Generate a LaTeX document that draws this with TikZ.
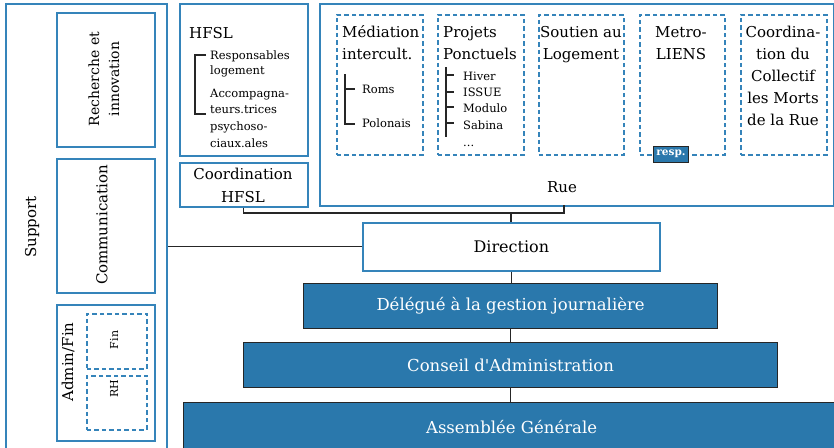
\documentclass[tikz,border=0pt]{standalone}
\usepackage{fontspec}
\setmainfont{DejaVu Serif}
\newfontfamily\qfont{DejaVu Serif}
\definecolor{bl}{HTML}{3584BA}
\definecolor{fillb}{HTML}{2A78AC}
\definecolor{ink}{HTML}{262626}
\begin{document}
\begin{tikzpicture}[x=1pt,y=-1pt,
  box/.style={draw=bl, line width=1.7pt, anchor=north west, inner sep=0pt},
  dbox/.style={draw=bl, line width=1.5pt, dash pattern=on 4.5pt off 3pt, anchor=north west, inner sep=0pt},
  dark/.style={draw=ink, line width=1.2pt, fill=fillb, text=white, anchor=north west, inner sep=0pt, font=\fontsize{16.5}{19}\selectfont},
  conn/.style={draw=ink, line width=1.1pt},
  brk/.style={draw=ink, line width=1.3pt},
  big/.style={inner sep=0pt, font=\fontsize{15}{18}\selectfont},
  small/.style={inner sep=0pt, font=\fontsize{11.5}{14}\selectfont},
  tiny/.style={inner sep=0pt, font=\fontsize{11}{13}\selectfont}]
\useasboundingbox (0,0) rectangle (834,447);

% ---------- Support column ----------
\node[box, minimum width=161pt, minimum height=452pt] (support) at (5,3) {};
\node[big, rotate=90] (supportlbl) at (32,227) {Support};
\node[box, minimum width=98pt, minimum height=134pt] (recherche) at (56,12) {};
\node[inner sep=0pt, rotate=90, align=center, font=\fontsize{14}{20}\selectfont] (recherchelbl) at (104,79) {Recherche et\\innovation};
\node[box, minimum width=98pt, minimum height=134pt] (comm) at (56,158) {};
\node[big, rotate=90] (commlbl) at (102,225) {Communication};
\node[box, minimum width=98pt, minimum height=136pt] (admin) at (56,304) {};
\node[big, rotate=90] (adminlbl) at (68,362) {Admin/Fin};
\node[dbox, minimum width=60pt, minimum height=55pt] (fin) at (86,313) {};
\node[tiny, rotate=90] (finlbl) at (114,340) {Fin};
\node[dbox, minimum width=60pt, minimum height=54pt] (rh) at (86,375) {};
\node[tiny, rotate=90] (rhlbl) at (114,389) {RH};

% ---------- HFSL ----------
\node[box, minimum width=128pt, minimum height=152pt] (hfsl) at (179,3) {};
\node[big, anchor=base west] (hfsltitle) at (189,38) {HFSL};
\draw[brk] (206,55) -- (195,55) -- (195,114) -- (206,114);
\node[small, anchor=base west] (h1) at (210,59) {Responsables};
\node[small, anchor=base west] (h2) at (210,74) {logement};
\node[small, anchor=base west] (h3) at (210,97) {Accompagna-};
\node[small, anchor=base west] (h4) at (210,113) {teurs.trices};
\node[small, anchor=base west] (h5) at (210,130) {psychoso-};
\node[small, anchor=base west] (h6) at (210,147) {ciaux.ales};
\node[box, minimum width=128pt, minimum height=44pt] (coordhfsl) at (179,162) {};
\node[big, anchor=base] (ch1) at (243,179) {Coordination};
\node[big, anchor=base] (ch2) at (243,202) {HFSL};

% ---------- Rue ----------
\node[box, minimum width=514pt, minimum height=202pt] (rue) at (319,3) {};
\node[big, anchor=base] (ruelbl) at (562,192) {Rue};

\node[dbox, minimum width=86pt, minimum height=140pt] (medi) at (336,14) {};
\node[big, anchor=base west] (m1) at (342,37) {Médiation};
\node[big, anchor=base west] (m2) at (342,59) {intercult.};
\draw[brk] (345,74) -- (345,124) -- (355,124) (345,89) -- (355,89);
\node[small, anchor=base west] (m3) at (362,93) {Roms};
\node[small, anchor=base west] (m4) at (362,127) {Polonais};

\node[dbox, minimum width=86pt, minimum height=140pt] (proj) at (437,14) {};
\node[big, anchor=base west] (p1) at (443,37) {Projets};
\node[big, anchor=base west] (p2) at (443,59) {Ponctuels};
\draw[brk] (446,67) -- (446,137) (446,75) -- (454,75) (446,92) -- (454,92) (446,107) -- (454,107) (446,123) -- (454,123);
\node[small, anchor=base west] (p3) at (463,80) {Hiver};
\node[small, anchor=base west] (p4) at (463,96) {ISSUE};
\node[small, anchor=base west] (p5) at (463,112) {Modulo};
\node[small, anchor=base west] (p6) at (463,129) {Sabina};
\node[small, anchor=base west] (p7) at (463,146) {...};

\node[dbox, minimum width=85pt, minimum height=140pt] (sout) at (538,14) {};
\node[big, anchor=base] (s1) at (581,37) {Soutien au};
\node[big, anchor=base] (s2) at (581,59) {Logement};

\node[dbox, minimum width=85pt, minimum height=140pt] (metro) at (639,14) {};
\node[big, anchor=base] (mt1) at (681,37) {Metro-};
\node[big, anchor=base] (mt2) at (681,59) {LIENS};
\node[draw=ink, line width=0.9pt, fill=fillb, text=white, inner sep=0pt, minimum width=35pt, minimum height=16pt, font=\bfseries\fontsize{10.5}{12}\selectfont] (resp) at (671,154) {resp.};

\node[dbox, minimum width=86pt, minimum height=140pt] (cmr) at (740,14) {};
\node[big, anchor=base] (c1) at (783,37) {Coordina-};
\node[big, anchor=base] (c2) at (783,59) {tion du};
\node[big, anchor=base] (c3) at (783,81) {Collectif};
\node[big, anchor=base] (c4) at (783,103) {les Morts};
\node[big, anchor=base] (c5) at (783,125) {de la Rue};

% ---------- Hierarchy ----------
\node[box, draw=bl, fill=white, minimum width=297pt, minimum height=48pt, font=\fontsize{16}{18}\selectfont] (direction) at (362,222) {Direction};
\node[dark, minimum width=414pt, minimum height=45pt] (delegue) at (303,283) {Délégué à la gestion journalière};
\node[dark, minimum width=534pt, minimum height=45pt] (conseil) at (243,342) {Conseil d{\qfont '}Administration};
\node[dark, minimum width=656pt, minimum height=48pt] (ag) at (183,402) {Assemblée Générale};

% ---------- Connectors ----------
\coordinate (bus) at (511,213);
\coordinate (rueb) at (564,205);
\draw[conn] (coordhfsl.south) |- (rueb |- bus) -- (rueb);
\draw[conn] (bus) -- (bus |- direction.north);
\draw[conn] (direction.west) -- (direction.west -| support.east);
\draw[conn] (direction.south) -- (direction.south |- delegue.north);
\draw[conn] (delegue.south) -- (delegue.south |- conseil.north);
\draw[conn] (conseil.south) -- (conseil.south |- ag.north);
\end{tikzpicture}
\end{document}
